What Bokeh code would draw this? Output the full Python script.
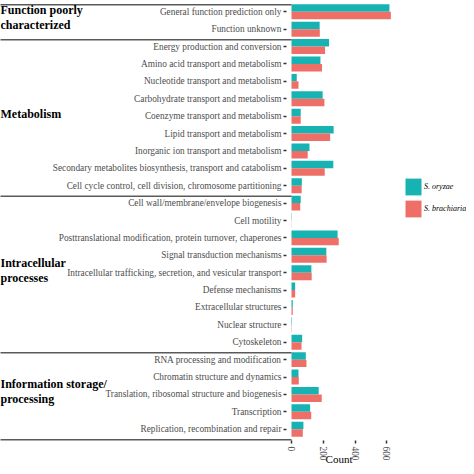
from bokeh.plotting import figure
from bokeh.models import ColumnDataSource, Range1d, FixedTicker
from bokeh.transform import dodge
from bokeh.core.properties import value
from bokeh.embed import file_html
from bokeh.resources import INLINE

categories = [
    "General function prediction only",
    "Function unknown",
    "Energy production and conversion",
    "Amino acid transport and metabolism",
    "Nucleotide transport and metabolism",
    "Carbohydrate transport and metabolism",
    "Coenzyme transport and metabolism",
    "Lipid transport and metabolism",
    "Inorganic ion transport and metabolism",
    "Secondary metabolites biosynthesis, transport and catabolism",
    "Cell cycle control, cell division, chromosome partitioning",
    "Cell wall/membrane/envelope biogenesis",
    "Cell motility",
    "Posttranslational modification, protein turnover, chaperones",
    "Signal transduction mechanisms",
    "Intracellular trafficking, secretion, and vesicular transport",
    "Defense mechanisms",
    "Extracellular structures",
    "Nuclear structure",
    "Cytoskeleton",
    "RNA processing and modification",
    "Chromatin structure and dynamics",
    "Translation, ribosomal structure and biogenesis",
    "Transcription",
    "Replication, recombination and repair",
]
s_oryzae = [616, 177, 236, 182, 33, 196, 58, 265, 113, 263, 65, 58, 2, 290,
            219, 125, 23, 8, 3, 67, 90, 44, 171, 117, 75]
s_brachiaria = [625, 178, 211, 192, 44, 207, 58, 243, 102, 209, 64, 55, 1, 297,
                221, 127, 23, 8, 2, 63, 94, 46, 190, 124, 71]
group_lines = [["Function poorly", "characterized"], ["Metabolism"],
               ["Intracellular", "processes"], ["Information storage/", "processing"]]
group_sizes = [2, 9, 9, 5]
x_ticks = [0, 200, 400, 600]
x_title = "Count"
series_names = ["S. oryzae", "S. brachiaria"]
colors = ["#17B3B3", "#EE6F68"]

n = len(categories)
pos = [n - 1 - i for i in range(n)]   # first category on top

PX = 0.159          # pixels per count
W, H = 466, 466
ZERO_PX = 291       # pixel where count 0 sits
x_start = -ZERO_PX / PX
x_end = x_start + W / PX
BAR_AREA_H = 440
PAD = 0.15
s_px = BAR_AREA_H / (n + 2 * PAD)
y_top = n - 0.5 + PAD
y_base = -0.5 - PAD               # bottom of the bar area (x axis)
y_bottom = y_top - H / s_px

src = ColumnDataSource(dict(pos=pos, cat=categories, ory=s_oryzae, bra=s_brachiaria))

p = figure(width=W, height=H, output_backend="svg", toolbar_location=None,
           title=None, x_range=Range1d(x_start, x_end), y_range=Range1d(y_bottom, y_top),
           min_border_left=0, min_border_right=0, min_border_top=0, min_border_bottom=0)
p.outline_line_color = None
p.grid.visible = False

p.hbar(y=dodge("pos", 0.215), left=0, right="ory", height=0.43,
       source=src, color=colors[0], line_color=None, legend_label=series_names[0])
p.hbar(y=dodge("pos", -0.215), left=0, right="bra", height=0.43,
       source=src, color=colors[1], line_color=None, legend_label=series_names[1])

# group separators
bounds = []
acc = 0
for g in [0] + group_sizes:
    acc += g
    bounds.append(n - acc - 0.5 - 0.1)
p.segment(x0=[x_start - 500] * len(bounds), x1=[0] * len(bounds), y0=bounds, y1=bounds,
          line_color="#5a5a5a", line_width=1.5)

# group labels
gx, gy, gt = [], [], []
start = 0
line_step = 15 / s_px
for lines, g in zip(group_lines, group_sizes):
    mid = (pos[start] + pos[start + g - 1]) / 2 + 0.15
    k = len(lines)
    for j, t in enumerate(lines):
        gy.append(mid + ((k - 1) / 2 - j) * line_step)
        gt.append(t)
        gx.append(x_start)
    start += g
p.text(x=gx, y=gy, text=gt,
       text_font=value("Liberation Serif"), text_font_style="bold",
       text_font_size="12px", text_color="black", text_align="left",
       text_baseline="middle")

# y axis at the panel edge
yax = p.yaxis[0]
yax.fixed_location = -5 / PX
yax.ticker = FixedTicker(ticks=pos)
yax.major_label_overrides = {pp: c for pp, c in zip(pos, categories)}
yax.axis_line_color = None
yax.minor_tick_line_color = None
yax.major_tick_out = 3
yax.major_tick_in = 0
yax.major_tick_line_width = 1.5
yax.major_tick_line_color = "#333333"
yax.major_label_standoff = 2
yax.major_label_text_font = "Liberation Serif"
yax.major_label_text_font_size = "9.3px"
yax.major_label_text_color = "#4D4D4D"

xax = p.xaxis[0]
xax.fixed_location = y_base
xax.ticker = FixedTicker(ticks=x_ticks)
xax.axis_line_color = None
xax.major_tick_out = 3
xax.major_tick_in = 0
xax.minor_tick_line_color = None
xax.major_tick_line_width = 1.5
xax.major_tick_line_color = "#333333"
xax.major_label_orientation = "vertical"
xax.major_label_standoff = 3
xax.major_label_text_font = "Liberation Serif"
xax.major_label_text_font_size = "9.3px"
xax.major_label_text_color = "#4D4D4D"

# axis title, centred under the panel
p.text(x=[(338.5 - ZERO_PX) / PX], y=[y_base - 18 / s_px], text=[x_title],
       text_font=value("Liberation Serif"), text_font_size="11px",
       text_color="black", text_align="center", text_baseline="middle")

lg = p.legend[0]
lg.location = (403, 247)
lg.padding = 0
lg.margin = 0
lg.spacing = 1
lg.glyph_width = 20
lg.glyph_height = 21
lg.label_standoff = 1
lg.label_text_font = "Liberation Serif"
lg.label_text_font_style = "italic"
lg.label_text_font_size = "8px"
lg.label_text_color = "black"
lg.border_line_color = None
lg.background_fill_alpha = 0

open("out.html", "w").write(file_html(p, INLINE))
